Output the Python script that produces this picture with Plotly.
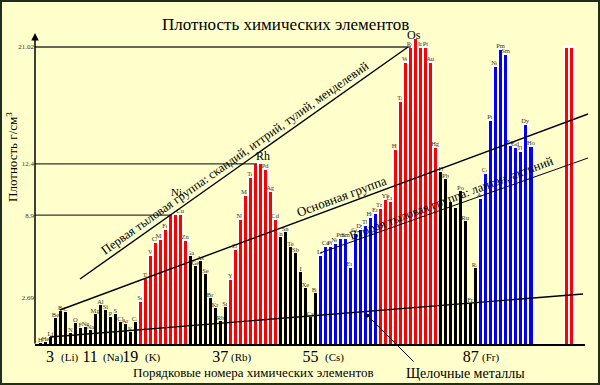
import plotly.graph_objects as go

# ---------------- data ----------------
ATOMIC_NUMBERS = list(range(1, 100)) + [106, 107]

SYMBOLS = [
    "H", "He", "Li", "Be", "B", "C", "N", "O", "F", "Ne",
    "Na", "Mg", "Al", "Si", "P", "S", "Cl", "Ar", "K", "Ca",
    "Sc", "Ti", "V", "Cr", "Mn", "Fe", "", "", "Cu", "Zn",
    "Ga", "Ge", "As", "Se", "Br", "Kr", "Rb", "Sr", "Y", "Zr",
    "Nb", "Mo", "Tc", "", "", "Pd", "Ag", "Cd", "In", "Sn",
    "Te", "Sb", "I", "Xe", "Cs", "Ba", "La", "Ce", "Pr", "Nd",
    "Pm", "Sm", "Eu", "Gd", "Dy", "Tb", "Ho", "Er", "Tm", "Yb",
    "Lu", "Hf", "Ta", "W", "Re", "", "Ir", "Pt", "Au", "Hg",
    "Tl", "Pb", "", "", "Po", "Ru", "Fr", "Ra", "Ac", "Ce",
    "Pr", "Nd", "Pm", "Sm", "Eu", "Gd", "Tb", "Dy", "Ho",
    "", "",
]

DENSITY = [
    0.17, 0.24, 0.57, 1.85, 2.33, 2.26, 0.82, 1.49, 1.16, 1.23,
    1.03, 2.10, 2.74, 2.40, 1.90, 2.10, 1.60, 1.44, 0.91, 1.60,
    3.03, 4.57, 6.16, 7.08, 7.24, 7.92, 8.95, 8.95, 8.95, 7.19,
    6.10, 5.41, 5.75, 4.84, 3.20, 2.51, 1.65, 2.58, 4.50, 6.55,
    8.63, 10.27, 11.53, 12.45, 12.45, 12.05, 10.55, 8.61, 7.42, 7.72,
    6.73, 6.28, 4.98, 3.88, 1.94, 3.54, 6.16, 6.78, 6.78, 7.01,
    7.31, 7.31, 5.32, 7.65, 7.95, 8.22, 8.77, 9.06, 9.36, 10.00,
    9.88, 13.40, 16.71, 19.36, 20.39, 21.01, 20.39, 20.39, 19.36, 13.58,
    11.87, 11.37, 9.82, 9.36, 10.57, 8.51, 2.86, 5.25, 10.05, 11.80,
    15.41, 19.11, 20.27, 19.91, 13.70, 13.54, 13.31, 15.12, 13.65,
    20.39, 20.39,
]

MAIN_GROUP = list(range(1, 21)) + list(range(31, 39)) + list(range(49, 57)) + list(range(81, 89))
D_GROUP = list(range(21, 31)) + list(range(39, 49)) + list(range(69, 81)) + [106, 107]
F_GROUP = list(range(57, 69)) + list(range(89, 100))

Y_TICK_POS = [3.22, 8.9, 12.4, 20.41]
Y_TICK_TEXT = ["2.69", "8.9", "12.4", "21.02"]

X_TICK_NUMBERS = [3, 11, 19, 37, 55, 87]
X_TICK_SYMBOLS = ["(Li)", "(Na)", "(K)", "(Rb)", "(Cs)", "(Fr)"]

REF_LEVELS = [8.9, 12.4, 20.41]
REF_LEVEL_END = [27, 44.3, 75]

# ---------------- geometry helpers ----------------
W, H = 600, 385
ML, MB = 35, 40
PLOT_W, PLOT_H = W - ML, H - MB
PX_PER_N = 5.01
PX_PER_UNIT = 14.6
XMAX = PLOT_W / PX_PER_N
YMAX = PLOT_H / PX_PER_UNIT

def px(x):  # pixel -> paper x
    return (x - ML) / PLOT_W

def py(y):  # pixel -> paper y
    return (PLOT_H - y) / PLOT_H

def nx(n):  # data x -> paper
    return n / XMAX

def vy(v):  # data y -> paper
    return v / YMAX

SERIF = "Liberation Serif, Times New Roman, serif"
BG = "#FFFFCC"

lookup = {n: (s, d) for n, s, d in zip(ATOMIC_NUMBERS, SYMBOLS, DENSITY)}

def group_trace(members, color, width, line_w, line_c):
    xs = [n for n in members]
    ys = [lookup[n][1] for n in members]
    ts = [lookup[n][0] for n in members]
    return go.Bar(
        x=xs, y=ys, text=ts, width=width,
        marker=dict(color=color, line=dict(color=line_c, width=line_w)),
        textposition="outside", constraintext="none", cliponaxis=False,
        textfont=dict(family=SERIF, size=6.5, color="#333333"),
        hoverinfo="skip", showlegend=False,
    )

fig = go.Figure()
fig.add_trace(group_trace(MAIN_GROUP, "#000000", 0.6, 0, "#000000"))
fig.add_trace(group_trace(D_GROUP, "#FF0000", 1.0, 2, "#FFFFFF"))
fig.add_trace(group_trace(F_GROUP, "#0000FF", 1.0, 2, "#FFFFFF"))

shapes = []
# frame
shapes.append(dict(type="rect", xref="paper", yref="paper", x0=px(1), x1=px(599),
                   y0=py(384), y1=py(1), line=dict(color="#1e2d1e", width=2)))
# baseline
shapes.append(dict(type="line", xref="paper", yref="paper", x0=px(35), x1=px(585),
                   y0=py(345), y1=py(345), line=dict(color="#000000", width=2)))
# reference levels
for lv, end in zip(REF_LEVELS, REF_LEVEL_END):
    shapes.append(dict(type="line", xref="paper", yref="paper", x0=px(35), x1=nx(end),
                       y0=vy(lv), y1=vy(lv), line=dict(color="#333333", width=1.3)))
# diagonal group lines
for (x0, y0, x1, y1, w) in [(80, 279, 408, 47, 1.4), (60, 310, 588, 114, 1.4),
                            (320, 253, 588, 158, 1.0), (50, 337, 583, 294, 1.4)]:
    shapes.append(dict(type="line", xref="paper", yref="paper", x0=px(x0), x1=px(x1),
                       y0=py(y0), y1=py(y1), line=dict(color="#000000", width=w)))

ann = []
def text(x, y, s, size, angle=0, anchor="center"):
    ann.append(dict(xref="paper", yref="paper", x=px(x), y=py(y), text=s, showarrow=False,
                    xanchor=anchor, yanchor="middle", textangle=angle,
                    font=dict(family=SERIF, size=size, color="#000000")))

text(285, 24, "Плотность химических элементов", 17)
text(12, 157, "Плотность г/см<sup>3</sup>", 13, angle=-90)
text(253, 372, "Порядковые номера химических элементов", 13)
text(465, 373, "Щелочные металлы", 14)
text(235, 158, "Первая тыловая группа: скандий, иттрий, тулий, менделевий", 12.5, angle=-35.3)
text(341, 196, "Основная группа", 13, angle=-20.3)
text(452, 198, "Вторая тыловая группа: лантан, актиний", 12.5, angle=-20.5)
text(176, 192, "Ni", 11)
text(263, 156, "Rh", 12)
text(414, 35, "Os", 12)

# y axis arrow
ann.append(dict(xref="paper", yref="paper", x=px(35), y=py(33), ax=0, ay=312, text="",
                showarrow=True, arrowhead=2, arrowsize=1, arrowwidth=1.5, arrowcolor="#000000"))
# arrow to alkali-metal line
ann.append(dict(xref="paper", yref="paper", x=px(365), y=py(313), ax=50, ay=50, text="",
                showarrow=True, arrowhead=2, arrowsize=1, arrowwidth=1, arrowcolor="#000000"))

# symbol part of the x tick labels
SYM_SHIFT = [9, 11, 13, 9, 12, 9]
for n, s, sh in zip(X_TICK_NUMBERS, X_TICK_SYMBOLS, SYM_SHIFT):
    ann.append(dict(xref="x", yref="paper", x=n, xshift=sh, y=py(357), text=s, showarrow=False,
                    xanchor="left", yanchor="middle",
                    font=dict(family=SERIF, size=11, color="#000000")))

fig.update_layout(
    width=W, height=H, autosize=False,
    margin=dict(l=ML, r=0, t=0, b=MB, pad=0),
    paper_bgcolor=BG, plot_bgcolor=BG,
    barmode="overlay", bargap=0,
    showlegend=False, hovermode=False,
    shapes=shapes, annotations=ann,
    xaxis=dict(range=[0, XMAX], showgrid=False, zeroline=False, showline=False,
               tickmode="array", tickvals=X_TICK_NUMBERS, ticktext=[str(n) for n in X_TICK_NUMBERS],
               ticks="", tickfont=dict(family=SERIF, size=16, color="#000000"), fixedrange=True),
    yaxis=dict(range=[0, YMAX], showgrid=False, zeroline=False, showline=False,
               tickmode="array", tickvals=Y_TICK_POS, ticktext=Y_TICK_TEXT,
               ticks="", tickfont=dict(family=SERIF, size=7, color="#333333"), fixedrange=True),
)

fig.write_html("out.html", config={"displayModeBar": False},
               post_script="document.body.style.margin='0';document.body.style.overflow='hidden';")
